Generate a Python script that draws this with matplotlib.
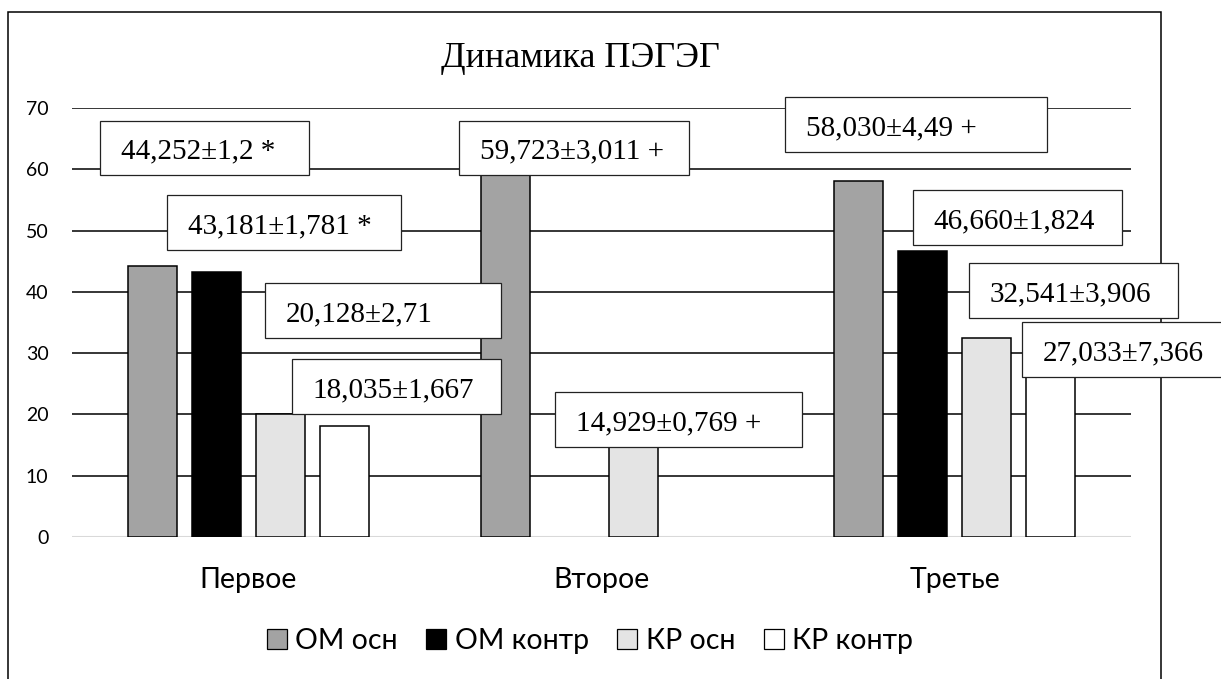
import numpy as np
import matplotlib
matplotlib.use("Agg")
import matplotlib.pyplot as plt
from matplotlib.patches import Patch, Rectangle
from matplotlib.transforms import blended_transform_factory

# --- data ---
categories = ["Первое", "Второе", "Третье"]
series = ["ОМ осн", "ОМ контр", "КР осн", "КР контр"]
om_main = [44.252, 59.723, 58.030]
om_ctrl = [43.181, np.nan, 46.660]
kr_main = [20.128, 14.929, 32.541]
kr_ctrl = [18.035, np.nan, 27.033]
# error and significance mark for each labelled bar, (series, category) order
errors = {
    (0, 0): ("1,2", "*"), (1, 0): ("1,781", "*"), (2, 0): ("2,71", ""), (3, 0): ("1,667", ""),
    (0, 1): ("3,011", "+"), (2, 1): ("0,769", "+"),
    (0, 2): ("4,49", "+"), (1, 2): ("1,824", ""), (2, 2): ("3,906", ""), (3, 2): ("7,366", ""),
}

colors = ["#a3a3a3", "#000000", "#e4e4e4", "#ffffff"]

# label boxes: left, right, bottom (data units)
boxes = {
    (0, 0): (-0.421, 0.171, 59.06), (1, 0): (-0.231, 0.432, 46.83),
    (2, 0): (0.047, 0.715, 32.47), (3, 0): (0.123, 0.715, 20.07),
    (0, 1): (0.596, 1.248, 59.06), (2, 1): (0.868, 1.568, 14.68),
    (0, 2): (1.520, 2.262, 62.82), (1, 2): (1.882, 2.475, 47.64),
    (2, 2): (2.041, 2.633, 35.73), (3, 2): (2.191, 2.786, 26.11),
}
box_h = 8.9

values = [om_main, om_ctrl, kr_main, kr_ctrl]

fig = plt.figure(figsize=(12.21, 6.79), dpi=100)
ax = fig.add_axes([72 / 1221, 1 - 537 / 679, (1131 - 72) / 1221, 429 / 679])

x = np.arange(len(categories))
width = 0.14
step = 0.1813
for i, (name, vals) in enumerate(zip(series, values)):
    offs = (i - 1.5) * step
    for xi, v in zip(x, vals):
        if np.isnan(v):
            continue
        ax.bar(xi + offs, v, width, color=colors[i], edgecolor="black",
               linewidth=1.1, zorder=3)

ax.set_xlim(-0.5, 2.5)
ax.set_ylim(0, 70)
ax.set_yticks(range(0, 80, 10))
ax.set_xticks([])
ax.tick_params(axis="y", length=0, pad=17, labelsize=14)
for lbl in ax.get_yticklabels():
    lbl.set_fontfamily("Lato")
ax.yaxis.grid(True, color="black", linewidth=1.1, zorder=1)
ax.set_axisbelow(True)
for s in ax.spines.values():
    s.set_visible(False)
ax.axhline(0, color="#d9d9d9", linewidth=1.5, zorder=2)
ax.patch.set_visible(False)

# category names under each group
tr = blended_transform_factory(ax.transData, ax.transAxes)
for xi, c in zip(x, categories):
    ax.text(xi, -51 / 429, c, transform=tr, ha="center", va="baseline",
            fontsize=20.5, family="Lato")

# value labels in boxes
for (si, ci), (l, r, b) in boxes.items():
    err, mark = errors[(si, ci)]
    mean = values[si][ci]
    txt = f"{mean:.3f}".replace(".", ",") + "±" + err
    if mark:
        txt += " " + mark
    ax.add_patch(Rectangle((l, b), r - l, box_h, facecolor="white",
                           edgecolor="#222222", linewidth=0.9, zorder=5,
                           clip_on=False))
    ax.text(l + 0.0595, b + 2.77, txt, ha="left", va="baseline",
            fontsize=21, family="Liberation Serif", zorder=6, clip_on=False)

# outer border of the chart area
fig.add_artist(Rectangle((8 / 1221, -0.1), (1161 - 8) / 1221, 1.1 - 12 / 679,
                         transform=fig.transFigure, fill=False,
                         edgecolor="black", linewidth=1.1, zorder=-1))

fig.text(580 / 1221, 1 - 67 / 679, "Динамика ПЭГЭГ", ha="center",
         va="baseline", fontsize=26, family="Liberation Serif")

handles = [Patch(facecolor=c, edgecolor="black", linewidth=0.9) for c in colors]
fig.legend(handles, series, loc="center", bbox_to_anchor=(590 / 1221, 1 - 641 / 679),
           ncol=4, frameon=False, handlelength=0.7, handleheight=0.7,
           handletextpad=0.3, columnspacing=1.0,
           prop={"family": "Lato", "size": 20.5})

fig.savefig("out.png", dpi=100)
